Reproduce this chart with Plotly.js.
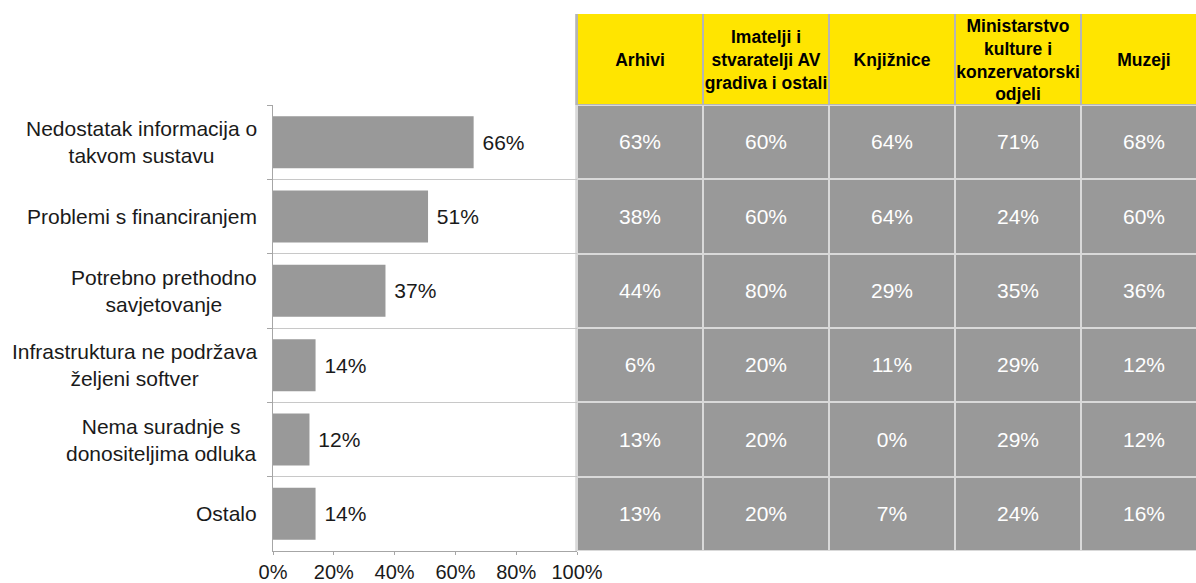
<!DOCTYPE html>
<html>
<head>
<meta charset="utf-8">
<script src="https://cdn.plot.ly/plotly-3.0.1.min.js"></script>
<style>html,body{margin:0;padding:0;background:#fff;}#chart{width:1196px;height:583px;}</style>
</head>
<body>
<div id="chart"></div>
<script>
// ---- data ----
const categories = [
  "Nedostatak informacija o<br>takvom sustavu",
  "Problemi s financiranjem",
  "Potrebno prethodno<br>savjetovanje",
  "Infrastruktura ne podržava<br>željeni softver",
  "Nema suradnje s<br>donositeljima odluka",
  "Ostalo"
];
const totalValues = [66, 51, 37, 14, 12, 14];
const groups = [
  "Arhivi",
  "Imatelji i<br>stvaratelji AV<br>gradiva i ostali",
  "Knjižnice",
  "Ministarstvo<br>kulture i<br>konzervatorski<br>odjeli",
  "Muzeji"
];
const arhivi      = [63, 38, 44, 6, 13, 13];
const imatelji    = [60, 60, 80, 20, 20, 20];
const knjiznice   = [64, 64, 29, 11, 0, 7];
const ministarstvo= [71, 24, 35, 29, 29, 24];
const muzeji      = [68, 60, 36, 12, 12, 16];
const xTicks = [0, 20, 40, 60, 80, 100];

// ---- build ----
const groupValues = [arhivi, imatelji, knjiznice, ministarstvo, muzeji];
const zTable = categories.map((c, i) => groupValues.map(g => g[i]));

const W = 1196, H = 583;
const plotLeft = 273, plotRight = 577, plotTop = 105, plotBottom = 551, headTop = 14;
const yDom = [(H - plotBottom) / H, (H - plotTop) / H];
const headDom = [(H - plotTop) / H, (H - headTop) / H];
const colW = 126;
const x2Span = (W - plotRight) / colW;

const font = "Liberation Sans, Arial, sans-serif";

const barTrace = {
  type: "bar", orientation: "h",
  x: totalValues, y: categories,
  marker: {color: "#999999"},
  texttemplate: "\u00a0%{x}%", textposition: "outside",
  textfont: {size: 21, color: "#1a1a1a", family: font},
  constraintext: "none", cliponaxis: false,
  hoverinfo: "skip", xaxis: "x", yaxis: "y"
};

const tableTrace = {
  type: "heatmap", x: groups, y: categories, z: zTable,
  colorscale: [[0, "#999999"], [1, "#999999"]], showscale: false,
  xgap: 2, ygap: 2,
  texttemplate: "%{z}%", textfont: {size: 21, color: "#ffffff", family: font},
  hoverinfo: "skip", xaxis: "x2", yaxis: "y2"
};

const headerTrace = {
  type: "heatmap", x: groups, y: ["h"], z: [groups.map(() => 0)],
  text: [groups],
  colorscale: [[0, "#FFE500"], [1, "#FFE500"]], showscale: false,
  xgap: 2, ygap: 1,
  texttemplate: "<b>%{text}</b>", textfont: {size: 17.5, color: "#000000", family: font},
  hoverinfo: "skip", xaxis: "x2", yaxis: "y3"
};

const annotations = categories.map(c => ({
  xref: "x domain", yref: "y", x: 0, y: c, xanchor: "right", yanchor: "middle",
  xshift: -14, align: "center", showarrow: false, text: c,
  font: {size: 21, color: "#1a1a1a", family: font}
}));

const layout = {
  width: W, height: H,
  margin: {l: 0, r: 0, t: 0, b: 0},
  paper_bgcolor: "#ffffff", plot_bgcolor: "#ffffff",
  font: {family: font},
  showlegend: false,
  bargap: 0.3,
  xaxis: {
    domain: [plotLeft / W, plotRight / W], range: [0, 100], fixedrange: true,
    tickvals: xTicks, ticktext: xTicks.map(v => v + "%"),
    ticks: "outside", ticklen: 3, tickcolor: "#a6a6a6",
    showline: true, linecolor: "#a6a6a6", linewidth: 1,
    showgrid: false, zeroline: false,
    tickfont: {size: 20, color: "#1a1a1a", family: font}, anchor: "y"
  },
  yaxis: {
    domain: yDom, type: "category", autorange: "reversed", categoryarray: categories,
    tickson: "boundaries", ticks: "outside", ticklen: 5, tickcolor: "#a6a6a6",
    showgrid: true, gridcolor: "#c8c8c8", gridwidth: 1,
    showline: true, linecolor: "#a6a6a6", showticklabels: false, anchor: "x"
  },
  xaxis2: {domain: [plotRight / W, 1], range: [-0.5, -0.5 + x2Span], visible: false, anchor: "y2", type: "category", categoryarray: groups},
  yaxis2: {domain: yDom, type: "category", autorange: "reversed", categoryarray: categories, visible: false, anchor: "x2"},
  yaxis3: {domain: headDom, type: "category", visible: false, anchor: "x2"},
  shapes: [{
    type: "rect", xref: "paper", yref: "paper", layer: "below",
    x0: plotRight / W - 0.0015, x1: 1, y0: yDom[0], y1: headDom[0],
    fillcolor: "#d9d9d9", line: {width: 0}
  }, {
    type: "rect", xref: "paper", yref: "paper", layer: "below",
    x0: plotRight / W - 0.0015, x1: 1, y0: headDom[0], y1: headDom[1],
    fillcolor: "#b5b5b5", line: {width: 0}
  }],
  annotations: annotations
};

Plotly.newPlot("chart", [barTrace, tableTrace, headerTrace], layout, {staticPlot: true, displayModeBar: false});
</script>
</body>
</html>
